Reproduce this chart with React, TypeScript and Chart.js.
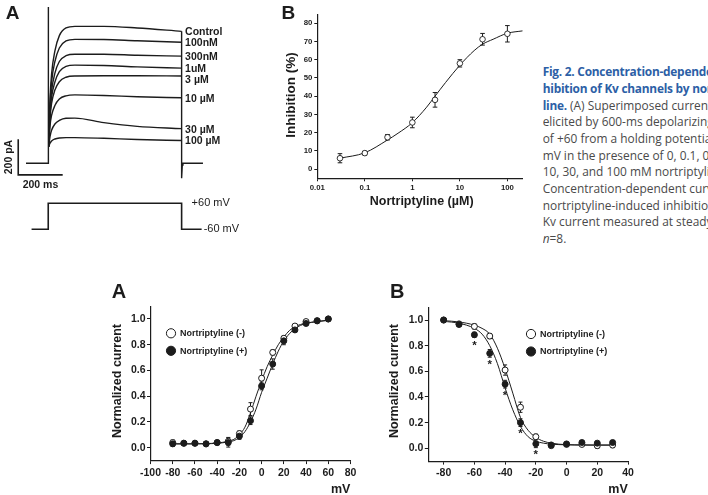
import React, { useEffect, useRef } from "react";
import { Chart, registerables } from "chart.js";

Chart.register(...registerables);

const SANS = '"Liberation Sans", Arial, Helvetica, sans-serif';
const INK = "#1c1c1c";

// ---------- Panel A (top): superimposed Kv current traces (ms, pA) ----------
const traceTimesMs = [2, 8, 15, 30, 50, 80, 120, 250, 400, 600];
const traceNames = ["Control", "100nM", "300nM", "1uM", "3 µM", "10 µM", "30 µM", "100 µM"];
const currentControl = [94, 360, 500, 629, 715, 758, 767, 767, 758, 739];
const current100nM = [94, 330, 455, 570, 646, 685, 694, 693, 686, 678];
const current300nM = [94, 300, 405, 505, 570, 603, 611, 611, 605, 600];
const current1uM = [94, 275, 370, 455, 513, 543, 550, 548, 540, 533];
const current3uM = [94, 250, 335, 410, 457, 482, 489, 490, 490, 489];
const current10uM = [94, 210, 268, 324, 360, 378, 383, 380, 373, 367];
const current30uM = [94, 150, 185, 220, 240, 252, 253, 228, 207, 194];
const current100uM = [94, 112, 125, 136, 142, 144, 144, 140, 133, 128];
const onsetTimesMs = [-100, 0, 0, 0, 2];
const onsetCurrent = [0, 0, 875, 94, 94];
const tailTimesMs = [600, 600, 603, 606, 696];
const tailCurrent = [739, -83, -10, 0, 0];
const scaleBarTimesMs = [-135, -135, 65];
const scaleBarCurrent = [135, -65, -65];
const protocolTimesMs = [-75, 0, 0, 600, 600, 690];
const protocolMv = [-60, -60, 60, 60, -60, -60];

// ---------- Panel B (top): concentration–inhibition ----------
const concUM = [0.03, 0.1, 0.3, 1, 3, 10, 30, 100];
const inhibitionPct = [6.0, 8.8, 17.5, 25.6, 38.0, 58.0, 71.2, 74.2];
const inhibitionSem = [2.5, 1.0, 1.5, 2.9, 4.0, 2.0, 3.2, 4.5];
const fitConcUM = [0.03, 0.1, 0.3, 0.5, 1, 2, 3, 5, 10, 20, 30, 50, 100, 210];
const fitInhibitionPct = [6.0, 9.0, 16.0, 19.7, 25.5, 34, 40, 47.5, 57, 65, 68.5, 71.2, 74.5, 75.8];
const concTicks = [0.01, 0.1, 1, 10, 100];
const inhibitionTicks = [0, 10, 20, 30, 40, 50, 60, 70, 80];

// ---------- Bottom A: steady-state activation ----------
const actVoltages = [-80, -70, -60, -50, -40, -30, -20, -10, 0, 10, 20, 30, 40, 50, 60];
const actControl = [0.04, 0.035, 0.035, 0.03, 0.04, 0.05, 0.11, 0.3, 0.54, 0.74, 0.85, 0.945, 0.98, 0.985, 1.0];
const actControlSem = [0.02, 0.01, 0.01, 0.01, 0.01, 0.03, 0.02, 0.05, 0.065, 0.02, 0.02, 0.015, 0.01, 0.01, 0.01];
const actDrug = [0.03, 0.035, 0.035, 0.03, 0.04, 0.04, 0.09, 0.21, 0.48, 0.65, 0.83, 0.915, 0.965, 0.987, 1.0];
const actDrugSem = [0.02, 0.01, 0.01, 0.01, 0.015, 0.035, 0.025, 0.03, 0.03, 0.04, 0.03, 0.015, 0.01, 0.01, 0.01];
const actFitVoltages = [-80, -60, -50, -40, -30, -25, -20, -15, -10, -5, 0, 5, 10, 15, 20, 25, 30, 35, 40, 50, 60];
const actFitControl = [0.03, 0.03, 0.032, 0.037, 0.05, 0.065, 0.1, 0.16, 0.27, 0.4, 0.52, 0.63, 0.72, 0.8, 0.86, 0.91, 0.94, 0.957, 0.968, 0.98, 0.99];
const actFitDrug = [0.03, 0.03, 0.031, 0.034, 0.045, 0.055, 0.08, 0.125, 0.2, 0.3, 0.43, 0.54, 0.65, 0.75, 0.83, 0.885, 0.925, 0.95, 0.965, 0.98, 0.99];
const actVoltageTicks = [-100, -80, -60, -40, -20, 0, 20, 40, 60, 80];

// ---------- Bottom B: steady-state inactivation ----------
const inactVoltages = [-80, -70, -60, -50, -40, -30, -20, -10, 0, 10, 20, 30];
const inactControl = [1.0, 0.97, 0.95, 0.875, 0.61, 0.32, 0.09, 0.02, 0.03, 0.03, 0.02, 0.025];
const inactControlSem = [0.01, 0.01, 0.02, 0.02, 0.04, 0.04, 0.02, 0.01, 0.01, 0.01, 0.02, 0.02];
const inactDrug = [1.0, 0.965, 0.885, 0.74, 0.5, 0.2, 0.035, 0.026, 0.034, 0.045, 0.04, 0.045];
const inactDrugSem = [0.01, 0.01, 0.02, 0.03, 0.03, 0.03, 0.03, 0.01, 0.01, 0.01, 0.01, 0.015];
const inactDrugSignificant = [false, false, true, true, true, true, true, false, false, false, false, false];
const inactFitVoltages = [-80, -70, -60, -55, -50, -45, -40, -35, -30, -25, -20, -15, -10, 0, 10, 20, 30];
const inactFitControl = [0.995, 0.985, 0.96, 0.935, 0.89, 0.78, 0.62, 0.43, 0.24, 0.14, 0.085, 0.055, 0.04, 0.028, 0.026, 0.025, 0.025];
const inactFitDrug = [0.99, 0.975, 0.935, 0.89, 0.8, 0.66, 0.47, 0.3, 0.17, 0.09, 0.055, 0.04, 0.032, 0.027, 0.025, 0.025, 0.025];
const inactVoltageTicks = [-80, -60, -40, -20, 0, 20, 40];

const normalizedTicks = [0, 0.2, 0.4, 0.6, 0.8, 1.0];
const seriesNames = ["Nortriptyline (-)", "Nortriptyline (+)"];

type Pt = { x: number; y: number };
const zip = (xs: number[], ys: number[]): Pt[] => xs.map((x, i) => ({ x, y: ys[i] }));

function drawText(
  ctx: CanvasRenderingContext2D,
  str: string,
  x: number,
  y: number,
  o: { size: number; weight?: string; align?: CanvasTextAlign; baseline?: CanvasTextBaseline; rotate?: number; color?: string }
) {
  ctx.save();
  ctx.translate(x, y);
  if (o.rotate) ctx.rotate(o.rotate);
  ctx.font = `${o.weight ?? "normal"} ${o.size}px ${SANS}`;
  ctx.fillStyle = o.color ?? INK;
  ctx.textAlign = o.align ?? "center";
  ctx.textBaseline = o.baseline ?? "middle";
  ctx.fillText(str, 0, 0);
  ctx.restore();
}

// vertical error bars with caps (under the markers) and significance stars
const errorBarPlugin = {
  id: "errorBars",
  beforeDatasetsDraw(chart: any) {
    const ctx: CanvasRenderingContext2D = chart.ctx;
    chart.data.datasets.forEach((ds: any, i: number) => {
      if (!ds.errors) return;
      const meta = chart.getDatasetMeta(i);
      const yScale = chart.scales[meta.yAxisID];
      ctx.save();
      ctx.strokeStyle = INK;
      ctx.lineWidth = 1;
      meta.data.forEach((el: any, j: number) => {
        const e = ds.errors[j];
        if (!e) return;
        const v = ds.data[j].y;
        const yt = yScale.getPixelForValue(v + e);
        const yb = yScale.getPixelForValue(v - e);
        const c = ds.capHalf ?? 2;
        const x = el.x;
        ctx.beginPath();
        ctx.moveTo(x, yt);
        ctx.lineTo(x, yb);
        ctx.moveTo(x - c, yt);
        ctx.lineTo(x + c, yt);
        ctx.moveTo(x - c, yb);
        ctx.lineTo(x + c, yb);
        ctx.stroke();
      });
      ctx.restore();
    });
  },
  afterDatasetsDraw(chart: any) {
    const ctx: CanvasRenderingContext2D = chart.ctx;
    chart.data.datasets.forEach((ds: any, i: number) => {
      if (!ds.stars) return;
      const meta = chart.getDatasetMeta(i);
      meta.data.forEach((el: any, j: number) => {
        if (ds.stars[j]) drawText(ctx, "*", el.x, el.y + 5.5, { size: 11.5, weight: "bold", baseline: "top" });
      });
    });
  },
};

const baseOptions = (padding: any) => ({
  responsive: false,
  animation: false as const,
  events: [] as any[],
  layout: { padding, autoPadding: false },
  plugins: { legend: { display: false }, tooltip: { enabled: false } },
});

function axis(opts: {
  type?: string;
  min: number;
  max: number;
  ticks: number[];
  fmt: (v: number) => string;
  size: number;
  tickLen: number;
  pad: number;
  fit: (s: any) => void;
}) {
  return {
    type: opts.type ?? "linear",
    min: opts.min,
    max: opts.max,
    afterBuildTicks: (s: any) => {
      s.ticks = opts.ticks.map((value) => ({ value }));
    },
    afterFit: opts.fit,
    grid: { display: true, drawOnChartArea: false, drawTicks: true, tickLength: opts.tickLen, color: INK, lineWidth: 1 },
    border: { display: true, color: INK, width: 1.2 },
    ticks: {
      autoSkip: false,
      maxRotation: 0,
      padding: opts.pad,
      color: INK,
      font: { family: SANS, size: opts.size, weight: "bold" },
      callback: (v: any) => opts.fmt(Number(v)),
    },
  };
}

function tracesConfig(): any {
  const series = [currentControl, current100nM, current300nM, current1uM, current3uM, current10uM, current30uM, current100uM];
  const line = { showLine: true, pointRadius: 0, borderColor: INK, borderWidth: 1.4, tension: 0 };
  const datasets: any[] = series.map((vals, i) => ({
    ...line,
    label: traceNames[i],
    data: zip(traceTimesMs, vals),
    cubicInterpolationMode: "monotone",
    yAxisID: "y",
  }));
  datasets.push({ ...line, data: zip(onsetTimesMs, onsetCurrent), yAxisID: "y" });
  datasets.push({ ...line, data: zip(tailTimesMs, tailCurrent), yAxisID: "y" });
  datasets.push({ ...line, borderWidth: 1.6, data: zip(scaleBarTimesMs, scaleBarCurrent), yAxisID: "y" });
  datasets.push({ ...line, borderWidth: 1.6, data: zip(protocolTimesMs, protocolMv), yAxisID: "yv" });

  const decor = {
    id: "traceDecor",
    afterDatasetsDraw(chart: any) {
      const ctx: CanvasRenderingContext2D = chart.ctx;
      const x = chart.scales.x, y = chart.scales.y, yv = chart.scales.yv;
      // labels sit just right of each trace end, nudged apart where traces crowd together
      let prevY = -Infinity;
      series.forEach((vals, i) => {
        const meta = chart.getDatasetMeta(i);
        const last = meta.data[meta.data.length - 1];
        const ly = Math.max(last.y + 1, prevY + 10.8);
        prevY = ly;
        drawText(ctx, traceNames[i], last.x + 3.5, ly, { size: 10.5, weight: "bold", align: "left" });
      });
      const barMid = (scaleBarTimesMs[1] + scaleBarTimesMs[2]) / 2;
      drawText(ctx, "200 ms", x.getPixelForValue(barMid), y.getPixelForValue(scaleBarCurrent[2]) + 10.5, { size: 10.5, weight: "bold" });
      drawText(ctx, "200 pA", x.getPixelForValue(scaleBarTimesMs[0]) - 9.5, y.getPixelForValue((scaleBarCurrent[0] + scaleBarCurrent[1]) / 2), {
        size: 10.5,
        weight: "bold",
        rotate: -Math.PI / 2,
      });
      drawText(ctx, "+60 mV", x.getPixelForValue(protocolTimesMs[3]) + 10, yv.getPixelForValue(protocolMv[3]), { size: 11, align: "left" });
      drawText(ctx, "-60 mV", x.getPixelForValue(protocolTimesMs[5]) + 2, yv.getPixelForValue(protocolMv[5]), { size: 11, align: "left" });
      drawText(ctx, "A", 12.5, 14, { size: 19, weight: "bold" });
    },
  };

  return {
    type: "scatter",
    data: { datasets },
    options: {
      ...baseOptions(0),
      scales: {
        x: { type: "linear", display: false, min: -217, max: 907.6 },
        y: { type: "linear", display: false, min: -457.5, max: 914.5 },
        yv: { type: "linear", display: false, min: -132.5, max: 998 },
      },
    },
    plugins: [decor],
  };
}

function doseConfig(): any {
  const decor = {
    id: "doseDecor",
    afterDraw(chart: any) {
      const ctx: CanvasRenderingContext2D = chart.ctx;
      drawText(ctx, "B", 68.3, 14.2, { size: 19, weight: "bold" });
      drawText(ctx, "Inhibition (%)", 71, 95, { size: 13.5, weight: "bold", rotate: -Math.PI / 2 });
      drawText(ctx, "Nortriptyline (µM)", 201.7, 201.7, { size: 12.5, weight: "bold" });
    },
  };
  return {
    type: "scatter",
    data: {
      datasets: [
        {
          data: zip(concUM, inhibitionPct),
          errors: inhibitionSem,
          capHalf: 2.3,
          showLine: false,
          pointRadius: 2.8,
          pointBorderWidth: 0.9,
          pointBackgroundColor: "#ffffff",
          pointBorderColor: INK,
        },
        {
          data: zip(fitConcUM, fitInhibitionPct),
          showLine: true,
          pointRadius: 0,
          borderColor: INK,
          borderWidth: 1,
          cubicInterpolationMode: "monotone",
        },
      ],
    },
    options: {
      ...baseOptions({ top: 15, right: 7.3, left: 0, bottom: 0 }),
      scales: {
        x: axis({
          type: "logarithmic",
          min: 0.01,
          max: 210,
          ticks: concTicks,
          fmt: (v) => String(v),
          size: 7.8,
          tickLen: 3,
          pad: 1.5,
          fit: (s: any) => {
            s.height = 36.7;
          },
        }),
        y: axis({
          min: -5,
          max: 84.5,
          ticks: inhibitionTicks,
          fmt: (v) => String(v),
          size: 7.8,
          tickLen: 3,
          pad: 2,
          fit: (s: any) => {
            s.width = 97.3;
          },
        }),
      },
    },
    plugins: [errorBarPlugin, decor],
  };
}

function ivConfig(p: {
  letter: string;
  voltages: number[];
  control: number[];
  controlSem: number[];
  drug: number[];
  drugSem: number[];
  stars?: boolean[];
  fitVoltages: number[];
  fitControl: number[];
  fitDrug: number[];
  xTicks: number[];
  xMin: number;
  xMax: number;
  yWidth: number;
  xHeight: number;
  padding: any;
  letterPos: [number, number];
  yTitlePos: [number, number];
  mvPos: [number, number];
  legendPos: [number, number];
}): any {
  const decor = {
    id: "ivDecor",
    afterDraw(chart: any) {
      const ctx: CanvasRenderingContext2D = chart.ctx;
      drawText(ctx, p.letter, p.letterPos[0], p.letterPos[1], { size: 20, weight: "bold" });
      drawText(ctx, "Normalized current", p.yTitlePos[0], p.yTitlePos[1], { size: 12.5, weight: "bold", rotate: -Math.PI / 2 });
      drawText(ctx, "mV", p.mvPos[0], p.mvPos[1], { size: 12.5, weight: "bold" });
      const [lx, ly] = p.legendPos;
      seriesNames.forEach((name, i) => {
        const cy = ly + i * 17.5;
        ctx.save();
        ctx.beginPath();
        ctx.arc(lx, cy, 4.6, 0, Math.PI * 2);
        ctx.fillStyle = i === 0 ? "#ffffff" : INK;
        ctx.fill();
        ctx.lineWidth = 1;
        ctx.strokeStyle = INK;
        ctx.stroke();
        ctx.restore();
        drawText(ctx, name, lx + 9, cy + 0.5, { size: 9, weight: "bold", align: "left" });
      });
    },
  };
  const marker = { showLine: false, pointRadius: 3, pointBorderWidth: 1, pointBorderColor: INK, capHalf: 2 };
  const fit = { showLine: true, pointRadius: 0, borderColor: INK, borderWidth: 1, cubicInterpolationMode: "monotone" };
  return {
    type: "scatter",
    data: {
      datasets: [
        { ...marker, data: zip(p.voltages, p.drug), errors: p.drugSem, stars: p.stars, pointBackgroundColor: INK },
        { ...marker, data: zip(p.voltages, p.control), errors: p.controlSem, pointBackgroundColor: "#ffffff" },
        { ...fit, data: zip(p.fitVoltages, p.fitDrug) },
        { ...fit, data: zip(p.fitVoltages, p.fitControl) },
      ],
    },
    options: {
      ...baseOptions(p.padding),
      scales: {
        x: axis({
          min: p.xMin,
          max: p.xMax,
          ticks: p.xTicks,
          fmt: (v) => String(v),
          size: 10.5,
          tickLen: 3.5,
          pad: 2.5,
          fit: (s: any) => {
            s.height = p.xHeight;
          },
        }),
        y: axis({
          min: -0.1,
          max: 1.1,
          ticks: normalizedTicks,
          fmt: (v) => v.toFixed(1),
          size: 10.5,
          tickLen: 3.5,
          pad: 1.5,
          fit: (s: any) => {
            s.width = p.yWidth;
          },
        }),
      },
    },
    plugins: [errorBarPlugin, decor],
  };
}

function ChartCanvas(props: { left: number; top: number; width: number; height: number; make: () => any }) {
  const ref = useRef<HTMLCanvasElement>(null);
  useEffect(() => {
    const chart = new Chart(ref.current as HTMLCanvasElement, props.make());
    return () => chart.destroy();
  }, []);
  return (
    <canvas
      ref={ref}
      width={props.width}
      height={props.height}
      style={{ position: "absolute", left: props.left, top: props.top, width: props.width, height: props.height }}
    />
  );
}

const BLUE = "#2d5fa6";
const headStyle = { color: BLUE, fontWeight: 700, letterSpacing: "-0.25px" } as const;

export default function App() {
  return (
    <div
      style={{
        position: "absolute",
        left: 0,
        top: 0,
        width: 708,
        height: 495,
        background: "#ffffff",
        overflow: "hidden",
      }}
    >
      <ChartCanvas left={0} top={0} width={250} height={245} make={tracesConfig} />
      <ChartCanvas left={220} top={0} width={310} height={215} make={doseConfig} />
      <ChartCanvas
        left={100}
        top={270}
        width={270}
        height={225}
        make={() =>
          ivConfig({
            letter: "A",
            voltages: actVoltages,
            control: actControl,
            controlSem: actControlSem,
            drug: actDrug,
            drugSem: actDrugSem,
            fitVoltages: actFitVoltages,
            fitControl: actFitControl,
            fitDrug: actFitDrug,
            xTicks: actVoltageTicks,
            xMin: -100,
            xMax: 80,
            yWidth: 50.5,
            xHeight: 34.4,
            padding: { top: 36.1, right: 19.5, left: 0, bottom: 0 },
            letterPos: [19, 22.5],
            yTitlePos: [18, 111],
            mvPos: [240.7, 220],
            legendPos: [71, 63.3],
          })
        }
      />
      <ChartCanvas
        left={380}
        top={270}
        width={260}
        height={225}
        make={() =>
          ivConfig({
            letter: "B",
            voltages: inactVoltages,
            control: inactControl,
            controlSem: inactControlSem,
            drug: inactDrug,
            drugSem: inactDrugSem,
            stars: inactDrugSignificant,
            fitVoltages: inactFitVoltages,
            fitControl: inactFitControl,
            fitDrug: inactFitDrug,
            xTicks: inactVoltageTicks,
            xMin: -90,
            xMax: 40,
            yWidth: 48.3,
            xHeight: 33.9,
            padding: { top: 37.2, right: 12, left: 0, bottom: 0 },
            letterPos: [17.3, 22.5],
            yTitlePos: [15, 111],
            mvPos: [238, 220],
            legendPos: [151, 64],
          })
        }
      />
      <div
        style={{
          position: "absolute",
          left: 542.7,
          top: 63.4,
          width: 165.3,
          overflow: "hidden",
          whiteSpace: "nowrap",
          fontFamily: '"Open Sans", "Noto Sans", sans-serif',
          fontSize: 11.9,
          lineHeight: "16.67px",
          color: "#4a4a4a",
        }}
      >
        <div style={headStyle}>Fig. 2. Concentration-dependent in-</div>
        <div style={headStyle}>hibition of Kv channels by nortripty-</div>
        <div>
          <span style={headStyle}>line.</span> (A) Superimposed current traces
        </div>
        <div>elicited by 600-ms depolarizing pulses</div>
        <div>of +60 from a holding potential of -60</div>
        <div>mV in the presence of 0, 0.1, 0.3, 1, 3,</div>
        <div>10, 30, and 100 mM nortriptyline. (B)</div>
        <div>Concentration-dependent curve of</div>
        <div>nortriptyline-induced inhibition of the</div>
        <div>Kv current measured at steady state.</div>
        <div>
          <i>n</i>=8.
        </div>
      </div>
    </div>
  );
}
